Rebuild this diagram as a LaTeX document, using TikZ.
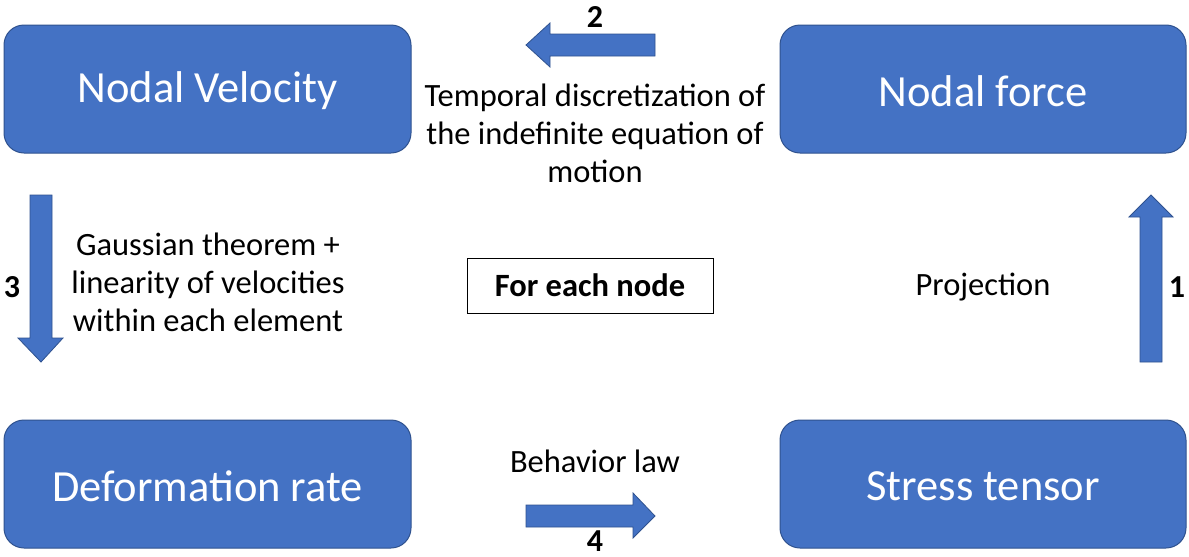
\documentclass[tikz,border=0pt]{standalone}
\usepackage{fontspec}
\setmainfont{Carlito}
\definecolor{boxblue}{HTML}{4472C4}
\definecolor{edgeblue}{HTML}{2F528F}
\begin{document}
\begin{tikzpicture}[x=1pt,y=-1pt,
  bigbox/.style={draw=edgeblue,line width=1pt,fill=boxblue,rounded corners=20pt},
  boxtext/.style={text=white,font=\fontsize{44.5}{50}\selectfont},
  blockarrow/.style={draw=edgeblue,line width=0.8pt,fill=boxblue},
  lbl/.style={font=\fontsize{32.5}{38}\selectfont,align=center,text=black},
  num/.style={font=\bfseries\fontsize{32}{36}\selectfont,text=black,inner sep=0pt}]
\useasboundingbox (0,0) rectangle (1189,557);
\fill[white] (0,0) rectangle (1189,557);
% boxes
\draw[bigbox] (4,25) rectangle (411,153);
\node[boxtext] (nv) at (207.5,91) {Nodal Velocity};
\draw[bigbox] (780,25) rectangle (1186,153);
\node[boxtext] (nf) at (983,91) {Nodal force};
\draw[bigbox] (4,420) rectangle (411,548);
\node[boxtext] (dr) at (207.5,486) {Deformation rate};
\draw[bigbox] (780,420) rectangle (1186,548);
\node[boxtext] (st) at (983,486) {Stress tensor};
% block arrows
\draw[blockarrow] (655,34) -- (550,34) -- (550,23) -- (526,45) -- (550,67) -- (550,56) -- (655,56) -- cycle;
\draw[blockarrow] (30,195) -- (52,195) -- (52,338) -- (63,338) -- (41,362) -- (18,338) -- (30,338) -- cycle;
\draw[blockarrow] (1140,362) -- (1162,362) -- (1162,217) -- (1173,217) -- (1151,195) -- (1129,217) -- (1140,217) -- cycle;
\draw[blockarrow] (526,505) -- (633,505) -- (633,493) -- (655,516) -- (633,538) -- (633,527) -- (526,527) -- cycle;
% numbers
\node[num] (n2) at (595,17) {2};
\node[num] (n3) at (12,287) {3};
\node[num] (n1) at (1177,287) {1};
\node[num] (n4) at (595,541) {4};
% labels
\node[lbl] (l2) at (595,133) {Temporal discretization of\\the indefinite equation of\\motion};
\node[lbl] (l3) at (208,282) {Gaussian theorem +\\linearity of velocities\\within each element};
\node[lbl] (l1) at (983,287) {Projection};
\node[lbl] (l4) at (595,461) {Behavior law};
\node[draw=black,line width=1pt,minimum width=246pt,minimum height=55pt,font=\bfseries\fontsize{32.5}{36}\selectfont] (fe) at (590,285.5) {For each node};
\end{tikzpicture}
\end{document}
